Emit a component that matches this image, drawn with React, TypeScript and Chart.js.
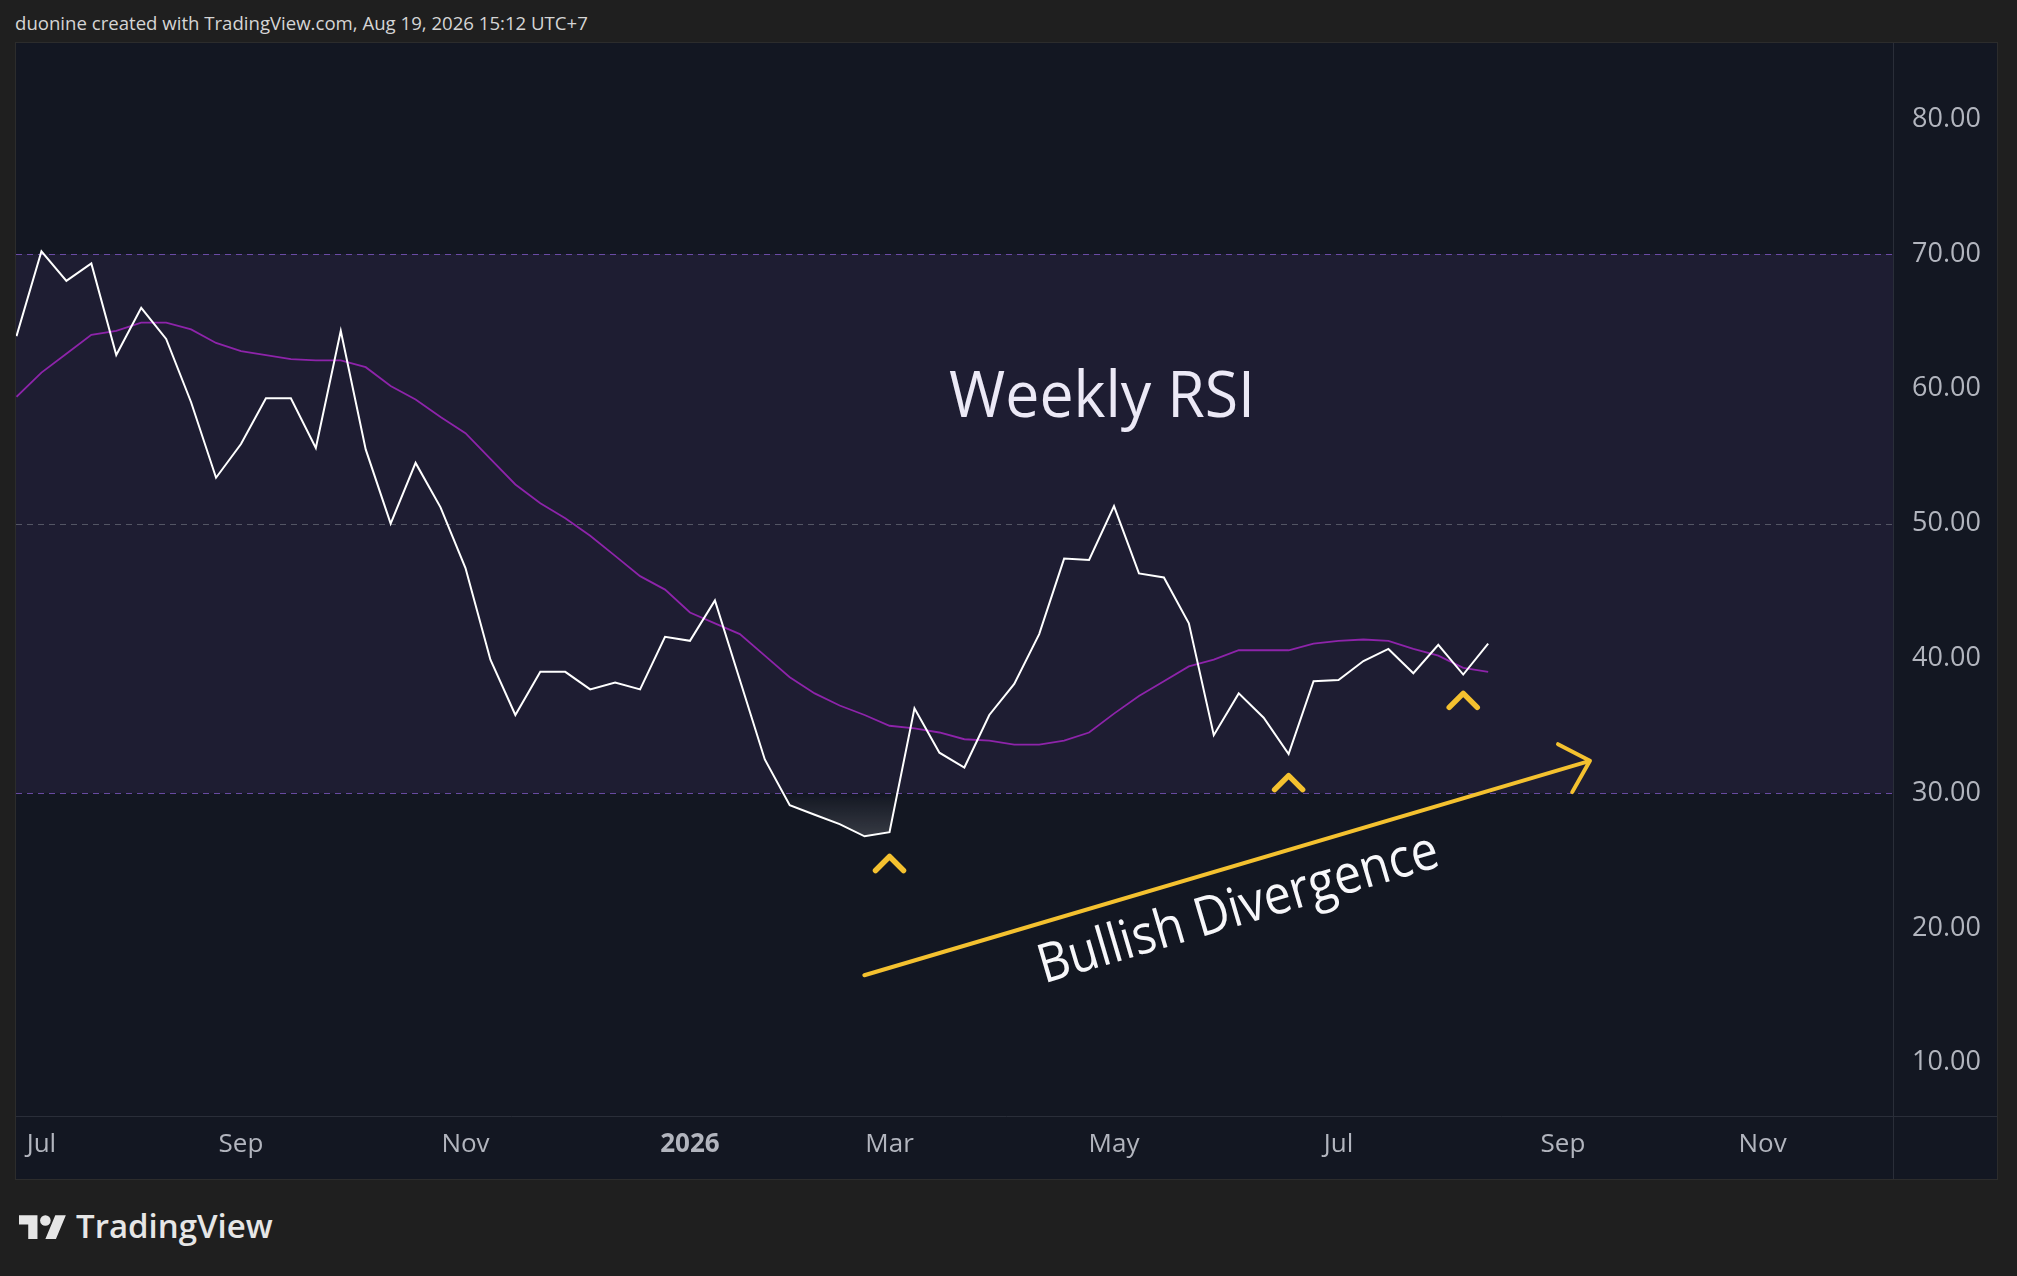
import React, { useEffect, useRef } from "react";
import { Chart, registerables } from "chart.js";

Chart.register(...registerables);

// ---- data (weekly bars, index 0 = week of 2025-06-30) ----
const rsi = [
  63.9, 70.2, 68.0, 69.3, 62.5, 66.0, 63.7, 59.0, 53.4, 55.9,
  59.3, 59.3, 55.6, 64.3, 55.5, 50.0, 54.5, 51.2, 46.7, 39.9,
  35.8, 39.0, 39.0, 37.7, 38.2, 37.7, 41.6, 41.3, 44.3, 38.4,
  32.5, 29.1, 28.4, 27.7, 26.8, 27.1, 36.3, 33.0, 31.9, 35.8,
  38.1, 41.8, 47.4, 47.3, 51.3, 46.3, 46.0, 42.6, 34.3, 37.4,
  35.6, 32.9, 38.3, 38.4, 39.8, 40.7, 38.9, 41.0, 38.8, 41.1,
];
const rsiMa = [
  59.4, 61.2, 62.6, 64.0, 64.3, 64.9, 64.9, 64.4, 63.4, 62.8,
  62.5, 62.2, 62.1, 62.1, 61.6, 60.2, 59.2, 57.9, 56.7, 54.8,
  52.9, 51.5, 50.4, 49.1, 47.6, 46.1, 45.1, 43.4, 42.6, 41.8,
  40.2, 38.6, 37.4, 36.5, 35.8, 35.0, 34.8, 34.5, 34.0, 33.9,
  33.6, 33.6, 33.9, 34.5, 35.9, 37.2, 38.3, 39.4, 39.9, 40.6,
  40.6, 40.6, 41.1, 41.3, 41.4, 41.3, 40.7, 40.2, 39.3, 39.0,
];

const xTickIdx = [1, 9, 18, 27, 35, 44, 53, 62, 70];
const xTickLabels = ["Jul", "Sep", "Nov", "2026", "Mar", "May", "Jul", "Sep", "Nov"];
const xRange = [-0.02, 75.23];

const yTicks = [10, 20, 30, 40, 50, 60, 70, 80];
const yRange = [6.05, 85.65];
const bandUpper = 70;
const bandMiddle = 50;
const bandLower = 30;

// ---- annotations (data coordinates: [week index, RSI value]) ----
const titleText = "Weekly RSI";
const titleAt = [43.52, 57.93];
const divergenceText = "Bullish Divergence";
const divergenceFrom = [33.99, 16.49];
const divergenceTo = [63.08, 32.4];
const divergenceTextAt = [48.95, 21.6];
const lowMarkers = [
  [35, 25.3],
  [51, 31.3],
  [58, 37.4],
];

const FONT = '"Open Sans", "Noto Sans", sans-serif';
const YELLOW = "#f4c12f";

function fitText(
  ctx: CanvasRenderingContext2D,
  text: string,
  x: number,
  y: number,
  font: string,
  target: number,
  angle: number,
  color: string
) {
  ctx.save();
  ctx.translate(x, y);
  ctx.rotate(angle);
  ctx.font = font;
  const w = ctx.measureText(text).width;
  ctx.scale(target / w, 1);
  ctx.fillStyle = color;
  ctx.textAlign = "center";
  ctx.textBaseline = "alphabetic";
  ctx.fillText(text, 0, 0);
  ctx.restore();
}

const decorPlugin = {
  id: "rsiDecor",
  beforeDatasetsDraw(chart: any) {
    const { ctx, chartArea: a, scales } = chart;
    const y = scales.y;
    const yTop = y.getPixelForValue(bandUpper);
    const yBot = y.getPixelForValue(bandLower);
    ctx.save();
    ctx.fillStyle = "rgba(126,87,194,0.1)";
    ctx.fillRect(a.left, yTop, a.right - a.left, yBot - yTop);

    ctx.lineWidth = 1;
    ctx.setLineDash([6, 5]);
    const lvl = (v: number, c: string) => {
      const p = Math.round(y.getPixelForValue(v)) + 0.5;
      ctx.strokeStyle = c;
      ctx.beginPath();
      ctx.moveTo(a.left, p);
      ctx.lineTo(a.right, p);
      ctx.stroke();
    };
    lvl(bandUpper, "rgba(126,87,194,0.8)");
    lvl(bandLower, "rgba(126,87,194,0.8)");
    lvl(bandMiddle, "rgba(120,123,134,0.6)");
    ctx.setLineDash([]);

    // oversold gradient fill
    const pts = chart.getDatasetMeta(0).data;
    ctx.beginPath();
    ctx.rect(a.left, yBot, a.right - a.left, a.bottom - yBot);
    ctx.clip();
    const grad = ctx.createLinearGradient(0, yBot, 0, y.getPixelForValue(26.5));
    grad.addColorStop(0, "rgba(255,255,255,0)");
    grad.addColorStop(1, "rgba(255,255,255,0.17)");
    ctx.beginPath();
    pts.forEach((p: any, i: number) => (i ? ctx.lineTo(p.x, p.y) : ctx.moveTo(p.x, p.y)));
    ctx.lineTo(pts[pts.length - 1].x, yBot);
    ctx.lineTo(pts[0].x, yBot);
    ctx.closePath();
    ctx.fillStyle = grad;
    ctx.fill();
    ctx.restore();
  },
  afterDatasetsDraw(chart: any) {
    const { ctx, chartArea: a, scales } = chart;
    const { x, y } = scales;
    const px = (p: number[]) => [x.getPixelForValue(p[0]), y.getPixelForValue(p[1])];
    ctx.save();
    ctx.beginPath();
    ctx.rect(a.left, a.top, a.right - a.left, a.bottom - a.top);
    ctx.clip();

    // title
    const [tx, ty] = px(titleAt);
    fitText(ctx, titleText, tx, ty, `400 64px ${FONT}`, 306, 0, "#ece9f6");

    // divergence arrow
    const [x0, y0] = px(divergenceFrom);
    const [x1, y1] = px(divergenceTo);
    const ang = Math.atan2(y1 - y0, x1 - x0);
    ctx.strokeStyle = YELLOW;
    ctx.lineWidth = 4;
    ctx.lineCap = "round";
    ctx.lineJoin = "round";
    ctx.beginPath();
    ctx.moveTo(x0, y0);
    ctx.lineTo(x1, y1);
    const head = 36;
    const spread = (44 * Math.PI) / 180;
    ctx.moveTo(x1 + head * Math.cos(ang + Math.PI - spread), y1 + head * Math.sin(ang + Math.PI - spread));
    ctx.lineTo(x1, y1);
    ctx.lineTo(x1 + head * Math.cos(ang + Math.PI + spread), y1 + head * Math.sin(ang + Math.PI + spread));
    ctx.stroke();

    // divergence text: baseline = centre shifted down along the normal by half cap height
    const [dx, dy] = px(divergenceTextAt);
    const cap = 19;
    const nx = -Math.sin(ang);
    const ny = Math.cos(ang);
    fitText(ctx, divergenceText, dx + nx * cap, dy + ny * cap, `400 54px ${FONT}`, 415, ang, "#f7f7fa");

    // low markers (chevrons)
    ctx.lineWidth = 5.5;
    ctx.strokeStyle = YELLOW;
    lowMarkers.forEach((m) => {
      const [mx, my] = px(m);
      ctx.beginPath();
      ctx.moveTo(mx - 14, my + 14);
      ctx.lineTo(mx, my);
      ctx.lineTo(mx + 14, my + 14);
      ctx.stroke();
    });
    ctx.restore();
  },
  afterDraw(chart: any) {
    const { ctx, chartArea: a, width, height } = chart;
    ctx.save();
    ctx.strokeStyle = "#2a2e39";
    ctx.lineWidth = 1;
    const vx = Math.round(a.right) + 0.5;
    const hy = Math.round(a.bottom) + 0.5;
    ctx.beginPath();
    ctx.moveTo(vx, 0);
    ctx.lineTo(vx, height);
    ctx.moveTo(0, hy);
    ctx.lineTo(width, hy);
    ctx.stroke();
    ctx.restore();
  },
};

function TVLogo() {
  return (
    <svg
      viewBox="0 0 36 28"
      width={47.5}
      height={37}
      style={{ position: "absolute", left: 19, top: 1209.7 }}
    >
      <path d="M14 22H7V11H0V4h14v18zM28 22h-8l7.5-18h8L28 22z" fill="#e6e6e6" />
      <circle cx="20" cy="8" r="4" fill="#e6e6e6" />
    </svg>
  );
}

export default function App() {
  const canvasRef = useRef<HTMLCanvasElement>(null);

  useEffect(() => {
    let chart: Chart | null = null;
    let cancelled = false;
    const build = () => {
      if (cancelled || !canvasRef.current) return;
      chart = new Chart(canvasRef.current, {
        type: "line",
        data: {
          datasets: [
            {
              label: "RSI",
              data: rsi.map((v, i) => ({ x: i, y: v })),
              borderColor: "#ffffff",
              borderWidth: 2,
              pointRadius: 0,
              tension: 0,
              fill: false,
            },
            {
              label: "RSI-based MA",
              data: rsiMa.map((v, i) => ({ x: i, y: v })),
              borderColor: "rgb(142,36,170)",
              borderWidth: 1.8,
              pointRadius: 0,
              tension: 0,
              fill: false,
            },
          ],
        },
        options: {
          animation: false,
          responsive: false,
          devicePixelRatio: 1,
          layout: { padding: 0 },
          plugins: { legend: { display: false }, tooltip: { enabled: false } },
          events: [],
          scales: {
            x: {
              type: "linear",
              min: xRange[0],
              max: xRange[1],
              grid: { display: false, drawTicks: false },
              border: { display: false },
              afterBuildTicks: (s: any) => {
                s.ticks = xTickIdx.map((v) => ({ value: v }));
              },
              afterFit: (s: any) => {
                s.height = 63;
                s.paddingLeft = 0;
                s.paddingRight = 0;
                s.paddingTop = 0;
                s.paddingBottom = 0;
              },
              ticks: {
                autoSkip: false,
                maxRotation: 0,
                padding: 13,
                color: "#b2b5be",
                callback: (v: any) => {
                  const k = xTickIdx.indexOf(Number(v));
                  return k >= 0 ? xTickLabels[k] : "";
                },
                font: (c: any) => ({
                  family: FONT,
                  size: 26,
                  weight: c.tick && c.tick.label === "2026" ? "bold" : "normal",
                }),
              },
            },
            y: {
              type: "linear",
              position: "right",
              min: yRange[0],
              max: yRange[1],
              grid: { display: false, drawTicks: false },
              border: { display: false },
              afterBuildTicks: (s: any) => {
                s.ticks = yTicks.map((v) => ({ value: v }));
              },
              afterFit: (s: any) => {
                s.width = 104;
                s.paddingLeft = 0;
                s.paddingRight = 0;
                s.paddingTop = 0;
                s.paddingBottom = 0;
              },
              ticks: {
                padding: 19,
                color: "#b2b5be",
                font: { family: FONT, size: 27 },
                callback: (v: any) => Number(v).toFixed(2),
              },
            },
          },
        },
        plugins: [decorPlugin],
      } as any);
    };
    const fontsApi = (document as any).fonts;
    if (fontsApi && fontsApi.load) {
      Promise.all([
        fontsApi.load(`26px "Open Sans"`),
        fontsApi.load(`bold 26px "Open Sans"`),
      ])
        .catch(() => null)
        .then(build);
    } else {
      build();
    }
    return () => {
      cancelled = true;
      if (chart) chart.destroy();
    };
  }, []);

  return (
    <div
      style={{
        position: "fixed",
        left: 0,
        top: 0,
        width: 2017,
        height: 1276,
        background: "#1f1f1f",
        overflow: "hidden",
        fontFamily: FONT,
      }}
    >
      <div
        style={{
          position: "absolute",
          left: 15,
          top: 11,
          fontSize: 18.6,
          lineHeight: "24px",
          color: "#d5d5d5",
          whiteSpace: "nowrap",
        }}
      >
        duonine created with TradingView.com, Aug 19, 2026 15:12 UTC+7
      </div>
      <div
        style={{
          position: "absolute",
          left: 15,
          top: 42,
          width: 1983,
          height: 1138,
          border: "1px solid #2c2c2c",
          boxSizing: "border-box",
          background: "#131722",
        }}
      >
        <canvas
          ref={canvasRef}
          width={1981}
          height={1136}
          style={{ display: "block", width: 1981, height: 1136 }}
        />
      </div>
      <TVLogo />
      <div
        style={{
          position: "absolute",
          left: 76,
          top: 1206,
          fontSize: 33,
          lineHeight: "40px",
          fontWeight: 600,
          color: "#e6e6e6",
          whiteSpace: "nowrap",
        }}
      >
        TradingView
      </div>
    </div>
  );
}
